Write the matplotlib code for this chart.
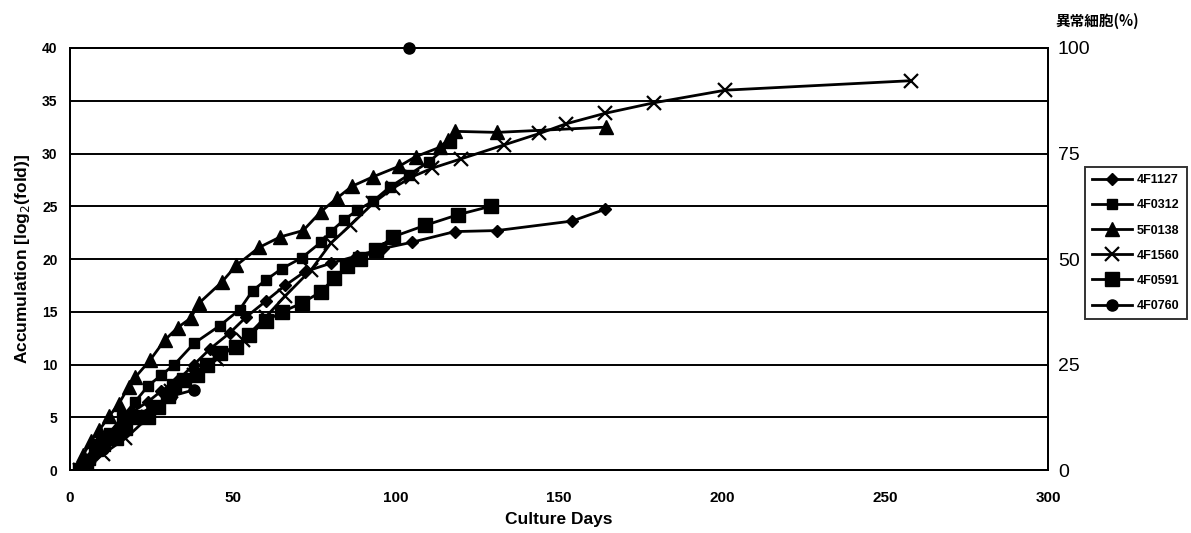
import matplotlib
matplotlib.use("Agg")
from matplotlib import pyplot as plt

plt.rcParams['font.family'] = ['Liberation Sans', 'DejaVu Sans']

# 4F1127 - small diamonds
days_4f1127 = [3, 7, 11, 15, 19, 24, 28, 33, 38, 43, 49, 54, 60, 66, 72, 80, 88, 96, 105, 118, 131, 154, 164]
acc_4f1127 = [0, 1.5, 3, 4, 5.5, 6.5, 7.5, 8.5, 10, 11.5, 13, 14.5, 16, 17.5, 18.8, 19.6, 20.3, 21, 21.6, 22.6, 22.7, 23.6, 24.7]

# 4F0312 - small squares
days_4f0312 = [3, 6, 9, 12, 16, 20, 24, 28, 32, 38, 46, 52, 56, 60, 65, 71, 77, 80, 84, 88, 93, 98, 104, 110, 117]
acc_4f0312 = [0, 1, 2.5, 3.5, 5, 6.5, 8, 9, 10, 12, 13.7, 15.2, 17, 18, 19.1, 20.1, 21.6, 22.6, 23.7, 24.6, 25.5, 26.8, 28, 29.2, 31.0]

# 5F0138 - triangles
days_5f0138 = [2.5, 4, 6.5, 9, 12, 15, 18, 20, 24.5, 29, 33, 37, 39.5, 46.5, 51, 58, 64.5, 71.5, 77, 82, 86.5, 93, 101, 106, 113.5, 116, 118, 131, 164.5]
acc_5f0138 = [0, 1.4, 2.8, 3.8, 5.1, 6.3, 7.9, 8.8, 10.4, 12.3, 13.5, 14.4, 15.8, 17.8, 19.4, 21.1, 22.1, 22.7, 24.5, 25.8, 26.9, 27.8, 28.8, 29.7, 30.6, 31.3, 32.1, 32.0, 32.5]

# 4F1560 - crosses
days_4f1560 = [3, 10, 17, 24, 31, 38, 45, 53, 60, 66, 74, 80, 86, 93, 99, 105, 111, 120, 133, 144, 152, 164, 179, 201, 258]
acc_4f1560 = [0, 1.5, 3.0, 5.0, 7.5, 9.0, 10.5, 12.3, 14.5, 16.5, 19, 21.5, 23.2, 25.3, 26.7, 27.8, 28.6, 29.5, 30.8, 31.9, 32.8, 33.8, 34.8, 36.0, 36.9]

# 4F0591 - large squares
days_4f0591 = [3, 5, 8, 10, 14, 17, 20, 24, 27, 30, 32, 35, 39, 42, 46, 51, 55, 60, 65, 71, 77, 81, 85, 89, 94, 99, 109, 119, 129]
acc_4f0591 = [0, 0.5, 2.0, 2.5, 3.0, 4.0, 5.0, 5.0, 6, 7, 8, 8.5, 9, 10, 11.1, 11.7, 12.8, 14.1, 15, 15.8, 16.9, 18.2, 19.3, 20, 20.9, 22.1, 23.2, 24.2, 25.0]

# 4F0760 - circles
days_4f0760 = [3, 6, 10, 15, 20, 25, 31, 38]
acc_4f0760 = [0, 1, 2, 3.5, 5, 6, 7, 7.6]

# abnormal cells (%)
abn_days = [104]
abn_pct = [100]

fig, ax = plt.subplots(figsize=(11.91, 5.33), dpi=100)
fig.subplots_adjust(left=0.0588, right=0.88, bottom=0.118, top=0.91)

ax.set_xlim(0, 300)
ax.set_ylim(0, 40)
ax.set_yticks(range(0, 41, 5))
ax.set_xticks(range(0, 301, 50))
ax.yaxis.grid(True, color='black', linewidth=1.4)
ax.set_axisbelow(True)

lw = 2.0
ax.plot(days_4f1127, acc_4f1127, color='black', lw=lw, marker='D', ms=6, label='4F1127')
ax.plot(days_4f0312, acc_4f0312, color='black', lw=lw, marker='s', ms=7, label='4F0312')
ax.plot(days_5f0138, acc_5f0138, color='black', lw=lw, marker='^', ms=10, label='5F0138')
ax.plot(days_4f1560, acc_4f1560, color='black', lw=lw, marker='x', ms=10, mew=1.6, label='4F1560')
ax.plot(days_4f0591, acc_4f0591, color='black', lw=lw, marker='s', ms=10, label='4F0591')
ax.plot(days_4f0760, acc_4f0760, color='black', lw=lw, marker='o', ms=8, label='4F0760')

ax2 = ax.twinx()
ax2.set_ylim(0, 100)
ax2.set_yticks([0, 25, 50, 75, 100])
ax2.plot(abn_days, abn_pct, color='black', marker='o', ms=8, ls='none', clip_on=False)
ax2.tick_params(axis='y', labelsize=14, length=0, pad=7)
fig.text(1097 / 1191, 1 - 21 / 533, '異常細胞(%)', ha='center', va='center',
         fontsize=10.5, fontweight='bold', family=['Noto Sans CJK JP', 'DejaVu Sans'])

for a in (ax, ax2):
    for s in a.spines.values():
        s.set_color('black')
        s.set_linewidth(1.4)

ax.tick_params(axis='x', length=0, labelsize=11, pad=15)
ax.tick_params(axis='y', length=0, labelsize=10, pad=9)
for lab in ax.get_xticklabels() + ax.get_yticklabels():
    lab.set_fontweight('bold')

ax.set_xlabel('Culture Days', fontsize=12.5, fontweight='bold', labelpad=5)
ax.set_ylabel('Accumulation [log$_2$(fold)]', fontsize=12.5, fontweight='bold', labelpad=7)

leg = ax.legend(loc='upper left', bbox_to_anchor=(1.038, 0.717), frameon=True, fancybox=False,
                edgecolor='black', handlelength=3.2, labelspacing=1.05, handletextpad=0.4,
                prop={'weight': 'bold', 'size': 9}, borderpad=0.55, borderaxespad=0)
leg.get_frame().set_linewidth(1.4)

plt.savefig('out.png', dpi=100)
